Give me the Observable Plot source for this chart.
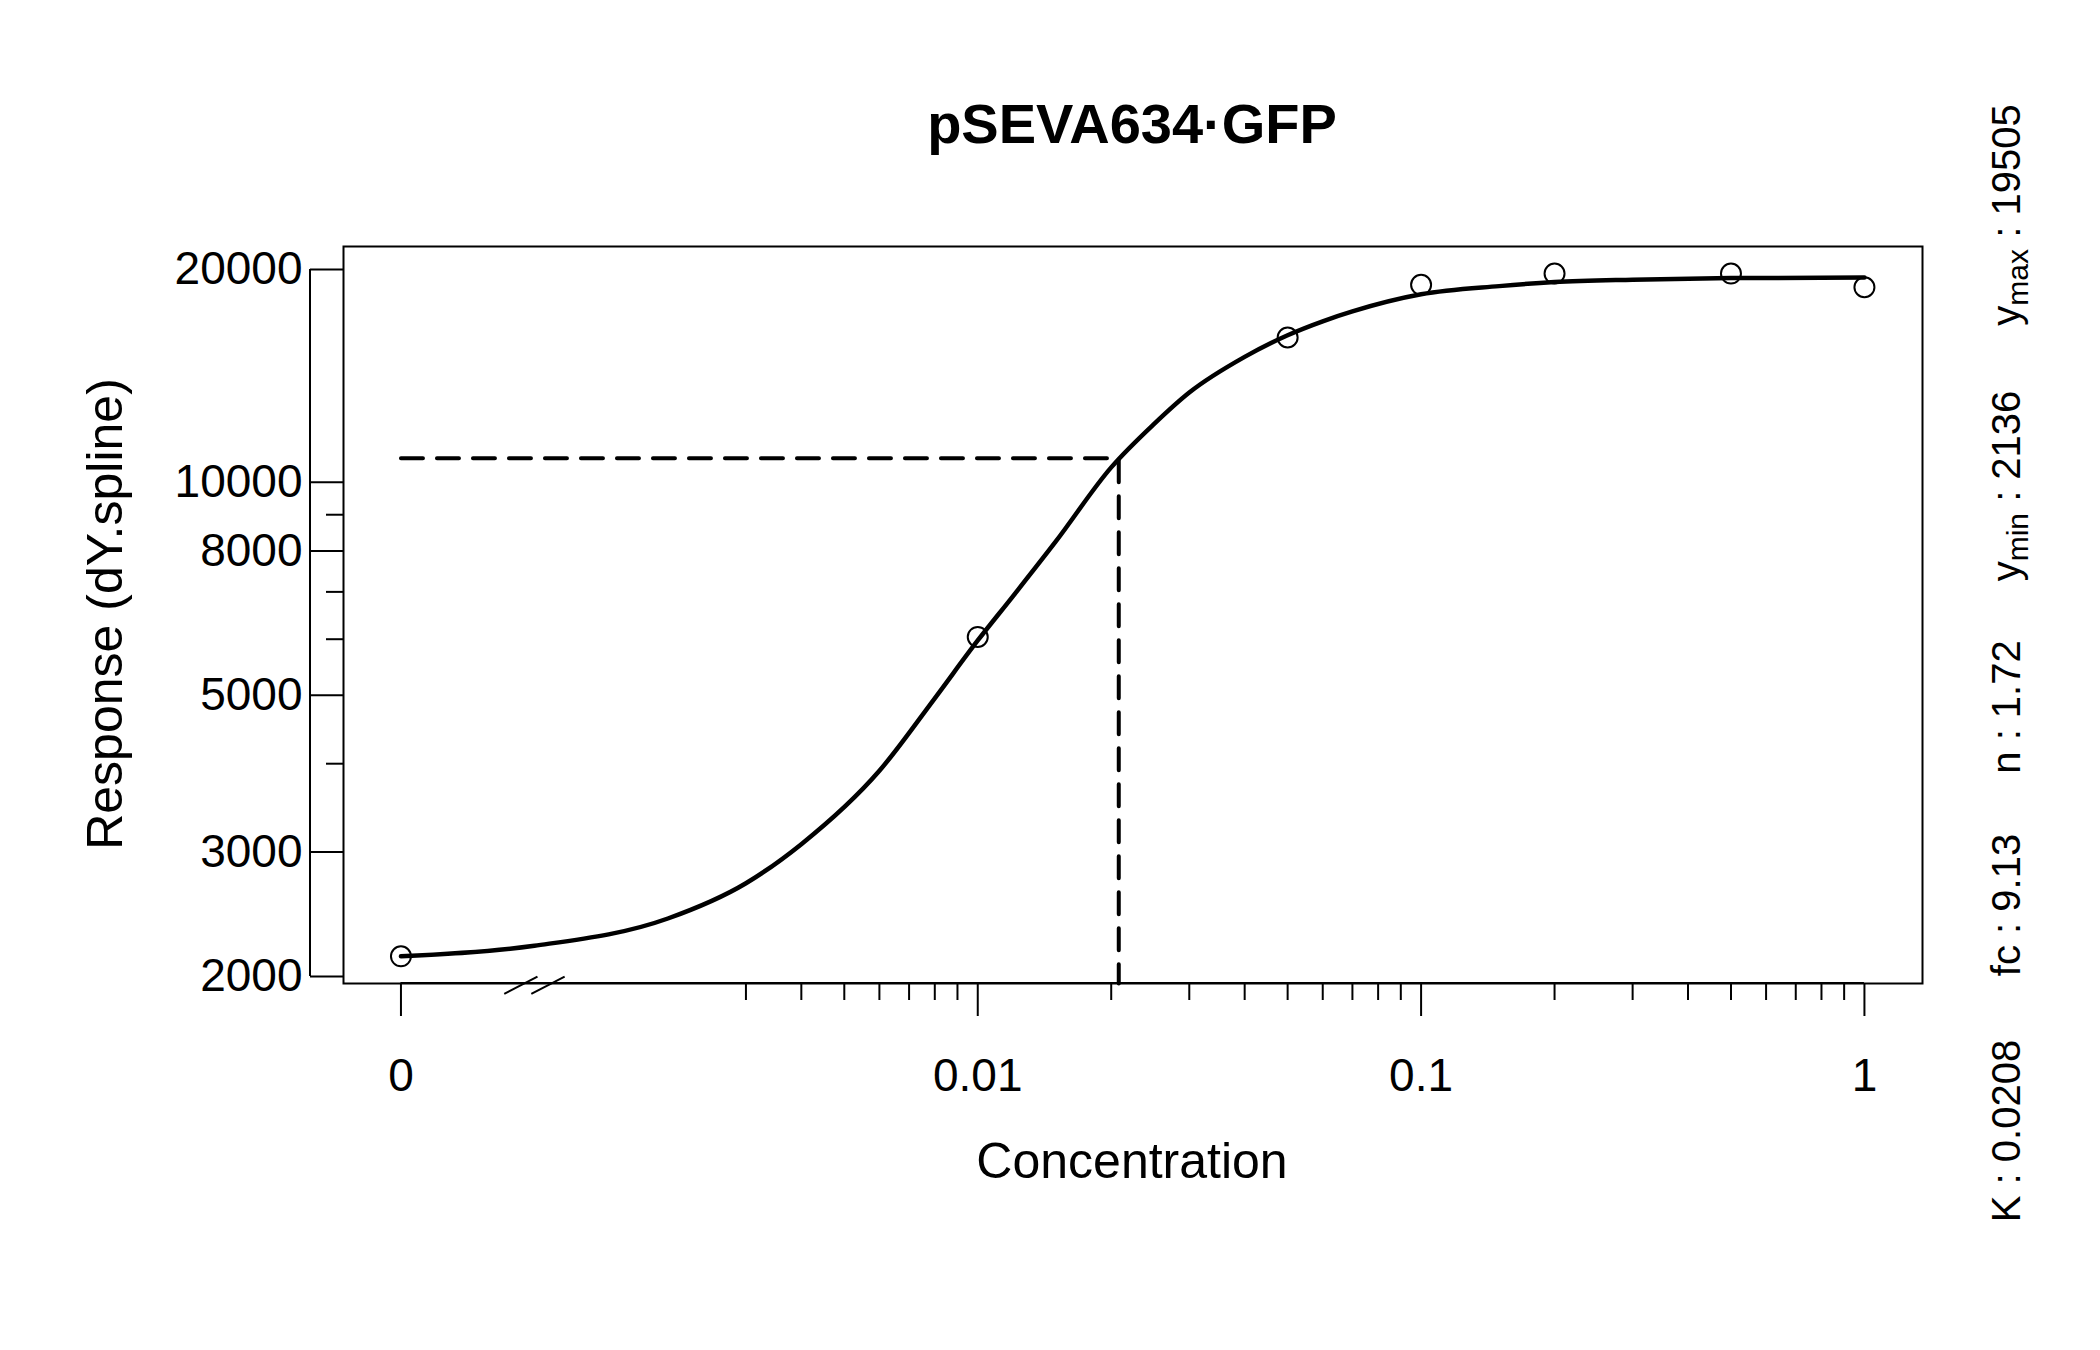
<!DOCTYPE html>
<html><head><meta charset="utf-8">
<script src="https://cdn.jsdelivr.net/npm/d3@7"></script>
<script src="https://cdn.jsdelivr.net/npm/@observablehq/plot@0.6"></script>
<style>body{margin:0;background:#fff}svg{font-family:"Liberation Sans",Arial,sans-serif}</style>
</head><body><div id="c"></div>
<script>
const zeroPos = 0.0005; // where concentration 0 is drawn on the log axis
const obsConc = [0, 0.01, 0.05, 0.1, 0.2, 0.5, 1];
const obsResp = [2136, 6045, 16030, 19030, 19740, 19740, 18880];
const curveConc = [0, 0.001, 0.002, 0.003, 0.004, 0.006, 0.008, 0.01, 0.012, 0.015, 0.02, 0.025, 0.03, 0.04, 0.05, 0.06, 0.07, 0.1, 0.15, 0.2, 0.3, 0.5, 1];
const curveResp = [2136, 2211, 2416, 2710, 3078, 3909, 4950, 5975, 6900, 8250, 10500, 12100, 13400, 15050, 16150, 16900, 17450, 18450, 18950, 19200, 19350, 19450, 19490];
const K = 0.0208, halfResp = 10820;
const xTicks = [0, 0.01, 0.1, 1];
const xTickLabels = ["0", "0.01", "0.1", "1"];
const xMinor = [0.003,0.004,0.005,0.006,0.007,0.008,0.009,0.02,0.03,0.04,0.05,0.06,0.07,0.08,0.09,0.2,0.3,0.4,0.5,0.6,0.7,0.8,0.9];
const yTicks = [2000, 3000, 5000, 8000, 10000, 20000];
const yMinor = [4000, 6000, 7000, 9000];
const params = [["K", "", "0.0208"], ["fc", "", "9.13"], ["n", "", "1.72"], ["y", "min", "2136"], ["y", "max", "19505"]];

const px = c => c === 0 ? zeroPos : c;
const obs = obsConc.map((c,i)=>({x:px(c), y:obsResp[i]}));
const curve = curveConc.map((c,i)=>({x:px(c), y:curveResp[i]}));
const xLab = xTicks.map((c,i)=>({x:px(c), t:xTickLabels[i]}));

const chart = Plot.plot({
  width: 2100, height: 1350,
  marginLeft: 343, marginRight: 178, marginTop: 246, marginBottom: 367,
  x: {type: "log", domain: [0.000371, 1.352]},
  y: {type: "log", domain: [1955, 21560]},
  style: {fontFamily: "Liberation Sans, Arial, sans-serif", fontSize: "46px", color: "black"},
  marks: [
    Plot.frame({stroke: "black", strokeWidth: 2}),
    Plot.line(curve, {x: "x", y: "y", stroke: "black", strokeWidth: 4.5, curve: "monotone-x"}),
    Plot.line([{x: zeroPos, y: halfResp}, {x: K, y: halfResp}, {x: K, y: 1955}], {x: "x", y: "y", stroke: "black", strokeWidth: 4, strokeDasharray: "22,14"}),
    Plot.dot(obs, {x: "x", y: "y", r: 10, stroke: "black", strokeWidth: 2, fill: "none"}),
    Plot.axisX(xTicks.map(px), {tickSize: 33, text: null, strokeWidth: 2, label: null}),
    Plot.text(xLab, {x: "x", y: 1955, text: "t", dy: 93, fontSize: 46, clip: false}),
    Plot.axisX(xMinor, {tickSize: 17, text: null, strokeWidth: 2, label: null}),
    Plot.axisY(yTicks, {tickSize: 33, tickPadding: 8, tickFormat: d=>String(d), fontSize: 46, strokeWidth: 2, label: null}),
    Plot.axisY(yMinor, {tickSize: 17, text: null, strokeWidth: 2, label: null}),
    Plot.link([{x1: 0.000855, y1: 1890, x2: 0.001016, y2: 2000}, {x1: 0.000984, y1: 1890, x2: 0.00117, y2: 2000}],
      {x1: "x1", y1: "y1", x2: "x2", y2: "y2", stroke: "black", strokeWidth: 2, clip: false})
  ]
});
document.getElementById("c").appendChild(chart);
const svg = d3.select(chart);
const xs = chart.scale("x"), ys = chart.scale("y");
svg.append("line").attr("x1", 310).attr("x2", 310).attr("y1", ys.apply(20000)).attr("y2", ys.apply(2000)).attr("stroke","black").attr("stroke-width",2);
svg.append("line").attr("x1", xs.apply(zeroPos)).attr("x2", xs.apply(1)).attr("y1", 983).attr("y2", 983).attr("stroke","black").attr("stroke-width",2);
svg.append("text").attr("x", 1132).attr("y", 143).attr("text-anchor","middle").attr("font-weight","bold").attr("font-size",56).text("pSEVA634·GFP");
svg.append("text").attr("x", 1132).attr("y", 1178).attr("text-anchor","middle").attr("font-size",50).text("Concentration");
svg.append("text").attr("transform","translate(122,614) rotate(-90)").attr("text-anchor","middle").attr("font-size",50).text("Response (dY.spline)");
const centers = [1131, 905, 707, 486, 215];
params.forEach((p,i)=>{
  const t = svg.append("text").attr("transform",`translate(2020,${centers[i]}) rotate(-90)`).attr("text-anchor","middle").attr("font-size",40);
  t.append("tspan").text(p[0]);
  if (p[1]) t.append("tspan").attr("font-size",30).attr("dy",8).text(p[1]);
  t.append("tspan").attr("dy", p[1] ? -8 : 0).text(" : " + p[2]);
});
</script></body></html>
